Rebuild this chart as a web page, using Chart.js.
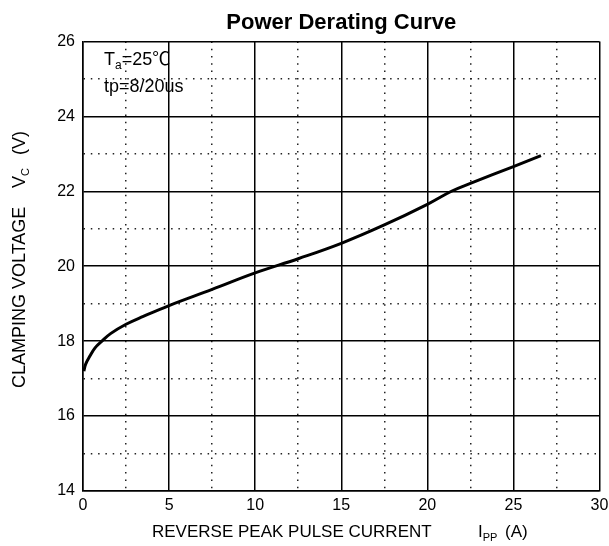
<!DOCTYPE html>
<html>
<head>
<meta charset="utf-8">
<title>Power Derating Curve</title>
<script src="https://cdn.jsdelivr.net/npm/chart.js@4.4.1/dist/chart.umd.min.js"></script>
<style>
  html, body { margin: 0; padding: 0; background: #fff; }
  #wrap { width: 609px; height: 546px; position: relative; }
</style>
</head>
<body>
<div id="wrap"><canvas id="chart"></canvas></div>
<script>
// ─── Data ────────────────────────────────────────────────────────────────────

const currentA = [0.05, 0.15, 0.4, 0.7, 1.1, 1.6, 2.5, 3.5, 5, 7.5, 10, 12.5, 15, 17.5, 20, 21.4, 22.5, 25, 26.6];
const clampV   = [17.2, 17.38, 17.6, 17.82, 18.0, 18.2, 18.45, 18.66, 18.95, 19.38, 19.82, 20.2, 20.61, 21.1, 21.65, 22.0, 22.21, 22.66, 22.95];

const xTicks = [0, 5, 10, 15, 20, 25, 30];
const yTicks = [14, 16, 18, 20, 22, 24, 26];

// ─── Styles ──────────────────────────────────────────────────────────────────

const FONT = '"Liberation Sans", Arial, "Noto Sans CJK SC", sans-serif';
const DOTS = [1.5, 5.8];

Chart.defaults.font.family = FONT;
Chart.defaults.color = "#000";

// draws a row of text pieces, each with its own size and baseline shift
function drawRuns(ctx, x, y, runs) {
  for (const [text, size, dy] of runs) {
    ctx.font = size + "px " + FONT;
    ctx.fillText(text, x, y + dy);
    x += ctx.measureText(text).width;
  }
  return x;
}

const labelPlugin = {
  id: "labels",
  afterDraw(chart) {
    const ctx = chart.ctx;
    ctx.save();
    ctx.fillStyle = "#000";
    ctx.textBaseline = "alphabetic";
    ctx.textAlign = "left";

    // test conditions, top left of the plot
    drawRuns(ctx, 104, 65, [["T", 18, 0], ["a", 12, 4], ["=25\u2103", 18, 0]]);
    drawRuns(ctx, 104, 92, [["tp=8/20us", 18, 0]]);

    // x axis title
    drawRuns(ctx, 152, 537, [["REVERSE PEAK PULSE CURRENT", 17, 0]]);
    drawRuns(ctx, 478, 537, [["I", 17, 0], ["PP", 11, 4]]);
    drawRuns(ctx, 505, 537, [["(A)", 17, 0]]);

    // y axis title, rotated
    ctx.translate(25, 388);
    ctx.rotate(-Math.PI / 2);
    drawRuns(ctx, 0, 0, [["CLAMPING VOLTAGE", 18, 0]]);
    drawRuns(ctx, 200, 0, [["V", 18, 0], ["C", 11, 4]]);
    drawRuns(ctx, 233, 0, [["(V)", 18, 0]]);
    ctx.restore();
  }
};

new Chart(document.getElementById("chart"), {
  type: "line",
  data: {
    datasets: [{
      data: currentA.map((x, i) => ({ x: x, y: clampV[i] })),
      borderColor: "#000",
      borderWidth: 3,
      pointRadius: 0,
      fill: false,
      tension: 0.4
    }]
  },
  options: {
    responsive: true,
    maintainAspectRatio: false,
    animation: false,
    layout: { padding: { left: 0, right: 0, top: 0, bottom: 0 } },
    plugins: {
      legend: { display: false },
      tooltip: { enabled: false },
      title: {
        display: true,
        fullSize: false,
        text: "Power Derating Curve",
        color: "#000",
        font: { size: 22, weight: "bold", family: FONT },
        padding: { top: 10, bottom: 5 }
      }
    },
    scales: {
      x: {
        type: "linear",
        min: 0, max: 30,
        afterFit: s => { s.height = 55; s.paddingRight = 9.5; s.paddingLeft = 0; },
        afterBuildTicks: s => {
          // majors from xTicks, minors halfway between
          const t = [];
          xTicks.forEach((v, i) => {
            t.push({ value: v });
            if (i < xTicks.length - 1) t.push({ value: (v + xTicks[i + 1]) / 2 });
          });
          s.ticks = t;
        },
        ticks: {
          autoSkip: false,
          maxRotation: 0,
          padding: 5,
          font: { size: 16 },
          callback: v => xTicks.includes(v) ? String(v) : ""
        },
        grid: {
          drawTicks: false,
          color: c => xTicks.includes(c.tick && c.tick.value) ? "#000" : "#222",
          lineWidth: 1.5
        },
        border: {
          color: "#000",
          width: 1.5,
          dash: c => (c.tick && !xTicks.includes(c.tick.value)) ? DOTS : []
        }
      },
      y: {
        type: "linear",
        min: 14, max: 26,
        afterFit: s => { s.width = 83; },
        afterBuildTicks: s => {
          const t = [];
          yTicks.forEach((v, i) => {
            t.push({ value: v });
            if (i < yTicks.length - 1) t.push({ value: (v + yTicks[i + 1]) / 2 });
          });
          s.ticks = t;
        },
        ticks: {
          autoSkip: false,
          padding: 8,
          font: { size: 16 },
          callback: v => yTicks.includes(v) ? String(v) : ""
        },
        grid: {
          drawTicks: false,
          color: c => yTicks.includes(c.tick && c.tick.value) ? "#000" : "#222",
          lineWidth: 1.5
        },
        border: {
          color: "#000",
          width: 1.5,
          dash: c => (c.tick && !yTicks.includes(c.tick.value)) ? DOTS : []
        }
      }
    }
  },
  plugins: [labelPlugin]
});
</script>
</body>
</html>
